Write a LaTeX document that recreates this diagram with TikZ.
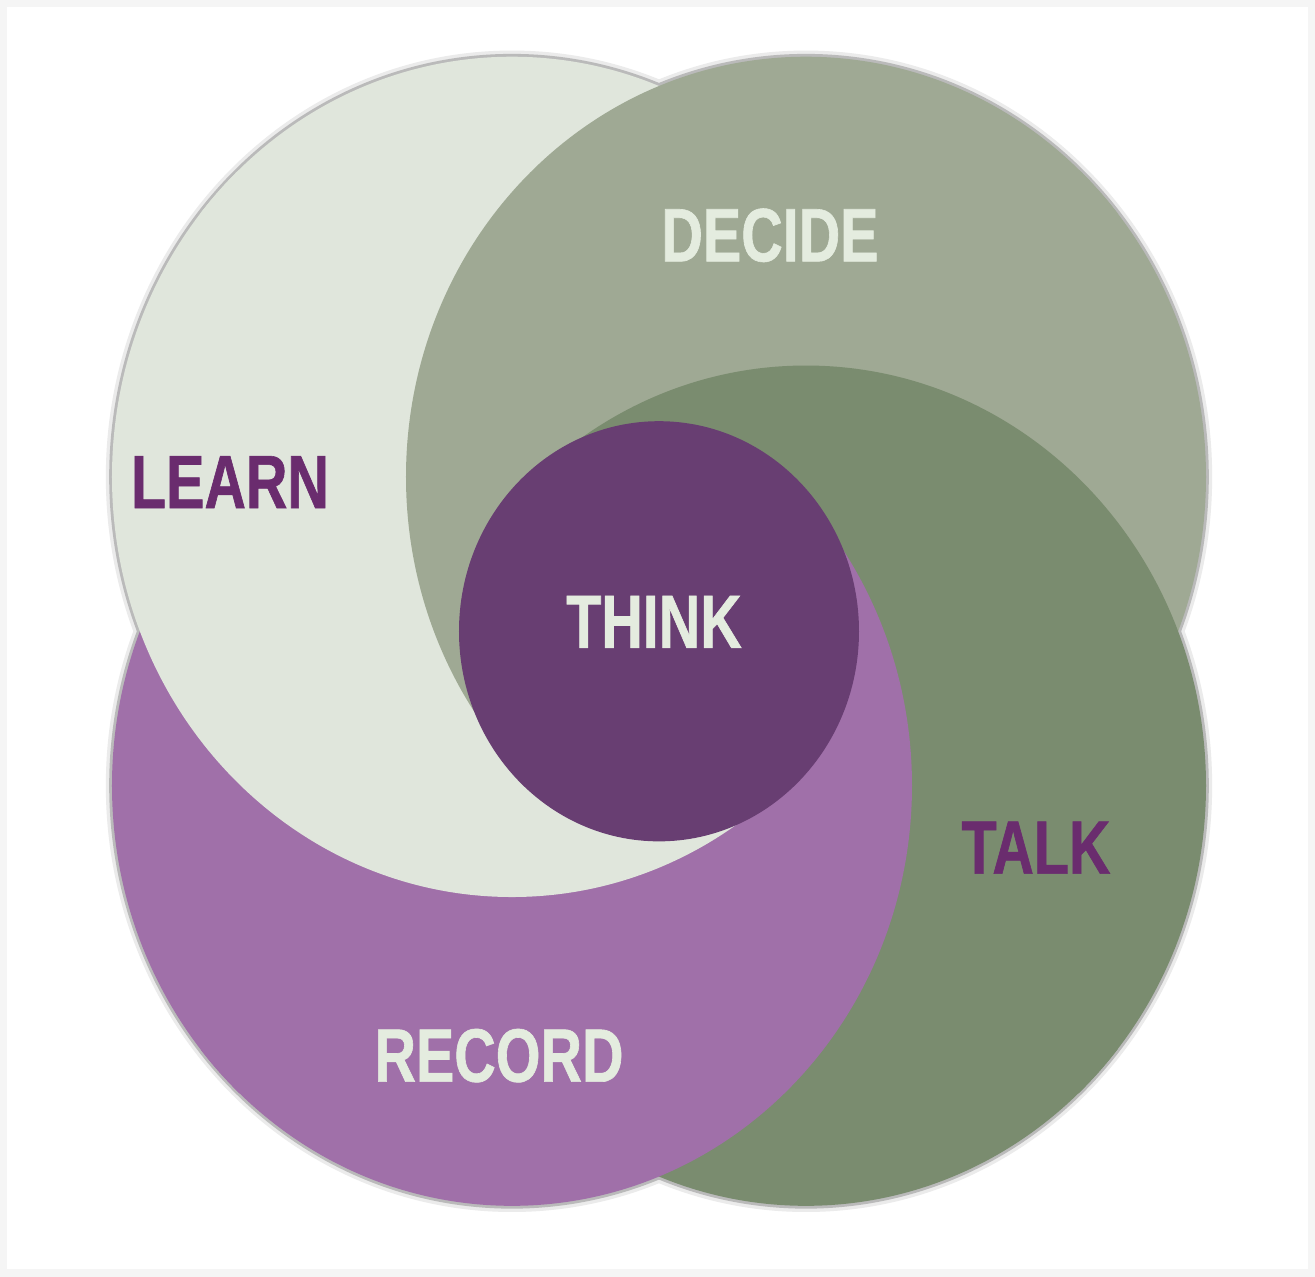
\documentclass[tikz,border=0pt]{standalone}
\usepackage{fontspec}
\newfontfamily\labelfont{Liberation Sans}[FakeStretch=0.76,FakeBold=0.8]
\definecolor{c-learn}{HTML}{E0E6DC}
\definecolor{c-decide}{HTML}{9FA994}
\definecolor{c-talk}{HTML}{7A8C6F}
\definecolor{c-record}{HTML}{A070A9}
\definecolor{c-think}{HTML}{683E72}
\definecolor{paletext}{HTML}{E4ECDF}
\definecolor{darktext}{HTML}{6A2C6E}

\begin{document}
\begin{tikzpicture}[x=0.01cm, y=-0.0105cm,
  halo/.style={draw=black!8, line width=3.5pt},
  rim/.style={draw=black!27, line width=1.6pt},
  word/.style={font=\labelfont\bfseries\fontsize{21.5}{24}\selectfont, inner sep=0pt}]
  \useasboundingbox (-659,-601) rectangle (656,614.3);
  \fill[black!4] (-659,-601) rectangle (656,614.3);
  \fill[white] (-652,-594.3) rectangle (649,607.6);

  \coordinate (learn)  at (-147,-147);
  \coordinate (decide) at (147,-147);
  \coordinate (talk)   at (147,147);
  \coordinate (record) at (-147,147);
  \coordinate (think)  at (0,0);

  % soft edge round the four big discs
  \foreach \c in {learn,decide,talk,record}
    \draw[halo] (\c) circle (400);
  \foreach \c in {learn,decide,talk,record}
    \draw[rim] (\c) circle (400);

  % pinwheel: each quarter stacks the discs in its own order
  \foreach \ang/\a/\b/\c/\d in {0/record/learn/decide/talk,
      -90/learn/decide/talk/record, 180/decide/talk/record/learn,
      90/talk/record/learn/decide} {
    \begin{scope}
      \clip[rotate=\ang] (0,20) -- (-900,-800) -- (900,-800) -- cycle;
      \begin{scope}[transparency group]
        \foreach \z in {\a,\b,\c,\d}
          \fill[c-\z] (\z) circle (400);
      \end{scope}
    \end{scope}
  }
  \fill[c-think] (think) circle (200);

  \node[word, text=paletext] (decidelabel) at (111,-377) {DECIDE};
  \node[word, text=darktext] (learnlabel)  at (-429,-142) {LEARN};
  \node[word, text=paletext] (thinklabel)  at (-5,-9) {THINK};
  \node[word, text=darktext] (talklabel)   at (377,206) {TALK};
  \node[word, text=paletext] (recordlabel) at (-160,404) {RECORD};
\end{tikzpicture}
\end{document}
